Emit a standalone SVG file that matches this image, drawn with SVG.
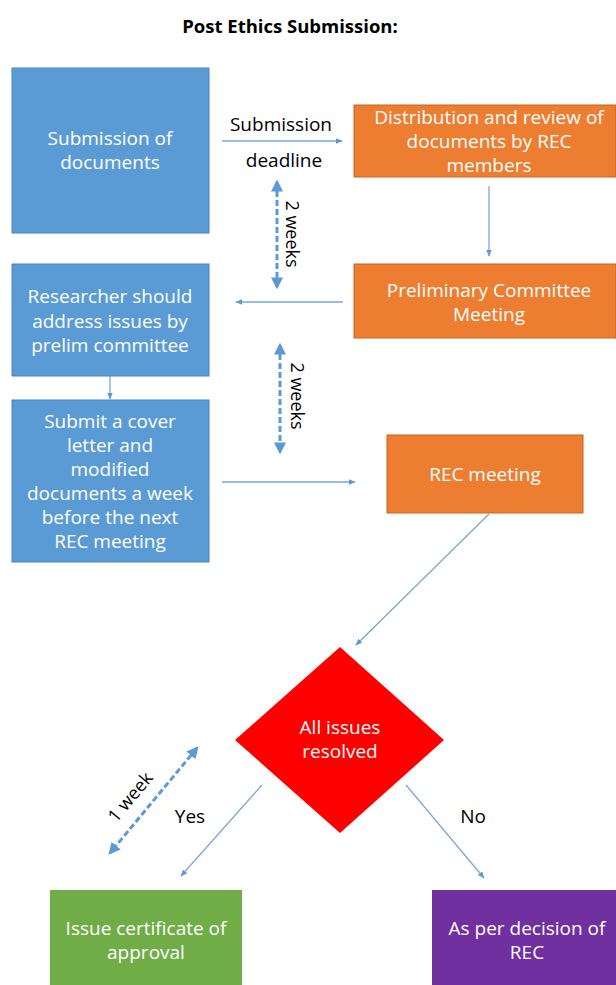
<svg xmlns="http://www.w3.org/2000/svg" width="616" height="985" viewBox="0 0 616 985">
<style>
.t{font-family:"Open Sans","Liberation Sans",sans-serif;font-size:19px;fill:#fff;text-anchor:middle}
.k{font-family:"Open Sans","Liberation Sans",sans-serif;font-size:19px;fill:#000;text-anchor:middle}
.s{font-family:"Open Sans","Liberation Sans",sans-serif;font-size:18px;fill:#000;text-anchor:middle}
.c{stroke:#7ba7d8;stroke-width:1.3;fill:none}
.d{stroke:#5b9bd5;stroke-width:3;stroke-dasharray:6 3;fill:none}
.blue{fill:#5b9bd5;stroke:#4a86c0;stroke-width:1}
.orange{fill:#ed7d31;stroke:#c8651f;stroke-width:1}
</style>
<defs>
<marker id="a" viewBox="0 0 10 10" refX="9" refY="5" markerWidth="7" markerHeight="7" markerUnits="userSpaceOnUse" orient="auto"><path d="M0,1 L10,5 L0,9 z" fill="#5b9bd5"/></marker>
<marker id="ad" viewBox="0 0 10 10" refX="8" refY="5" markerWidth="4" markerHeight="4" orient="auto-start-reverse"><path d="M0,0 L10,5 L0,10 z" fill="#5b9bd5"/></marker>
</defs>
<rect width="616" height="985" fill="#fff"/>
<text x="290" y="33" font-family="'Open Sans','Liberation Sans',sans-serif" font-size="18.5" font-weight="bold" text-anchor="middle">Post Ethics Submission:</text>

<g id="connectors">
<line class="c" x1="222" y1="141" x2="342" y2="141" marker-end="url(#a)"/>
<line class="c" x1="489" y1="186" x2="489" y2="256" marker-end="url(#a)"/>
<line class="c" x1="343" y1="302" x2="236" y2="302" marker-end="url(#a)"/>
<line class="c" x1="110" y1="376" x2="110" y2="399" marker-end="url(#a)"/>
<line class="c" x1="222" y1="482" x2="355" y2="482" marker-end="url(#a)"/>
<line class="c" x1="489" y1="514" x2="356" y2="645" marker-end="url(#a)"/>
<line class="c" x1="262" y1="785" x2="181" y2="876" marker-end="url(#a)"/>
<line class="c" x1="406" y1="785" x2="484" y2="878" marker-end="url(#a)"/>
<line class="d" x1="277" y1="182" x2="277" y2="287" marker-start="url(#ad)" marker-end="url(#ad)"/>
<line class="d" x1="280" y1="345" x2="280" y2="452" marker-start="url(#ad)" marker-end="url(#ad)"/>
<line class="d" x1="197" y1="748" x2="110" y2="853" marker-start="url(#ad)" marker-end="url(#ad)"/>
<text class="k" x="281" y="131">Submission</text>
<text class="k" x="284" y="167">deadline</text>
<text class="s" transform="translate(286,234) rotate(90)">2 weeks</text>
<text class="s" transform="translate(291,396) rotate(90)">2 weeks</text>
<text class="s" transform="translate(135,801) rotate(-50)">1 week</text>
<text class="k" x="190" y="823">Yes</text>
<text class="k" x="473" y="823">No</text>
</g>

<g id="n1"><rect class="blue" x="12" y="68" width="197" height="165"/>
<text class="t" x="110" y="145">Submission of</text><text class="t" x="110" y="169">documents</text></g>

<g id="n2"><rect class="orange" x="354" y="105" width="262" height="72"/>
<text class="t" x="489" y="124">Distribution and review of</text><text class="t" x="489" y="148">documents by REC</text><text class="t" x="489" y="172">members</text></g>

<g id="n3"><rect class="orange" x="354" y="264" width="262" height="74"/>
<text class="t" x="489" y="297">Preliminary Committee</text><text class="t" x="489" y="321">Meeting</text></g>

<g id="n4"><rect class="blue" x="12" y="264" width="197" height="112"/>
<text class="t" x="110" y="303">Researcher should</text><text class="t" x="110" y="328">address issues by</text><text class="t" x="110" y="352">prelim committee</text></g>

<g id="n5"><rect class="blue" x="12" y="400" width="197" height="162"/>
<text class="t" x="110" y="428">Submit a cover</text><text class="t" x="110" y="452">letter and</text><text class="t" x="110" y="476">modified</text><text class="t" x="110" y="500">documents a week</text><text class="t" x="110" y="524">before the next</text><text class="t" x="110" y="548">REC meeting</text></g>

<g id="n6"><rect class="orange" x="387" y="435" width="196" height="78"/>
<text class="t" x="485" y="481">REC meeting</text></g>

<g id="n7"><polygon points="340,647 444,740 340,833 235,740" fill="#ff0000"/>
<text class="t" x="340" y="734">All issues</text><text class="t" x="340" y="758">resolved</text></g>

<g id="n8"><rect x="50" y="890" width="192" height="95" fill="#70ad47"/>
<text class="t" x="146" y="935">Issue certificate of</text><text class="t" x="146" y="959">approval</text></g>

<g id="n9"><rect x="432" y="890" width="184" height="95" fill="#7030a0"/>
<text class="t" x="527" y="935">As per decision of</text><text class="t" x="527" y="959">REC</text></g>
</svg>
